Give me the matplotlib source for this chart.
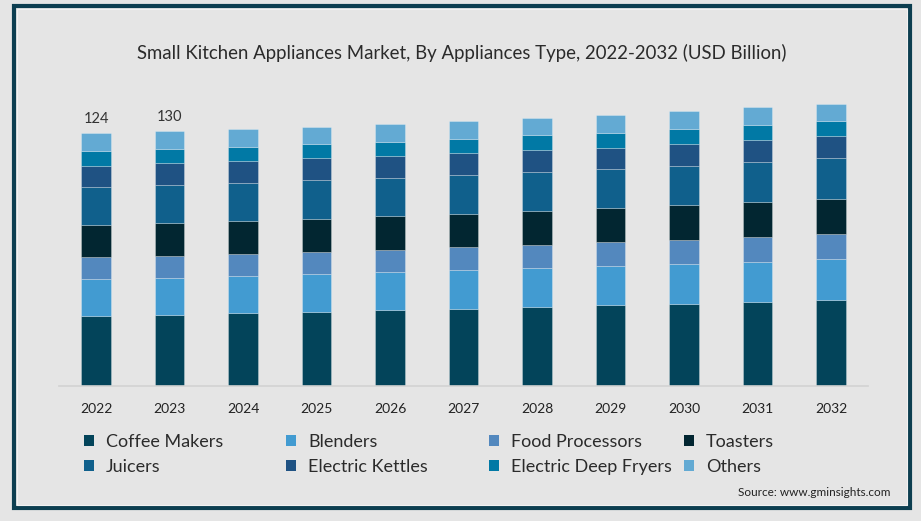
import numpy as np
import matplotlib.pyplot as plt
from matplotlib.patches import Rectangle

plt.rcParams['font.family'] = ['Lato', 'DejaVu Sans']

years = ['2022', '2023', '2024', '2025', '2026', '2027', '2028', '2029', '2030', '2031', '2032']

# USD Billion
coffee_makers = [34.2, 35.0, 35.7, 36.5, 37.1, 37.8, 38.6, 39.6, 40.4, 41.2, 42.2]
blenders = [18.3, 18.2, 18.5, 18.6, 18.9, 19.0, 19.1, 19.4, 19.6, 19.8, 20.1]
food_processors = [10.8, 10.8, 10.6, 10.8, 10.8, 11.3, 11.3, 11.5, 11.8, 12.3, 12.3]
toasters = [15.6, 16.0, 16.3, 16.2, 16.4, 16.5, 16.8, 16.8, 16.9, 17.0, 17.3]
juicers = [18.6, 18.6, 18.4, 18.8, 18.9, 18.8, 19.3, 19.1, 19.4, 19.5, 19.8]
electric_kettles = [10.6, 10.6, 10.9, 10.9, 10.6, 10.8, 10.8, 10.6, 10.8, 11.1, 11.1]
deep_fryers = [7.1, 7.0, 6.9, 7.0, 7.0, 7.0, 7.1, 7.2, 7.2, 7.1, 7.1]
others = [8.8, 8.8, 8.8, 8.5, 8.7, 8.8, 8.5, 8.8, 8.7, 8.8, 8.6]

total_labels = ['124', '130']  # only the first two bars are labelled

series = [
    ('Coffee Makers', coffee_makers, '#03445a'),
    ('Blenders', blenders, '#429bd1'),
    ('Food Processors', food_processors, '#5388be'),
    ('Toasters', toasters, '#022631'),
    ('Juicers', juicers, '#10608c'),
    ('Electric Kettles', electric_kettles, '#1f5283'),
    ('Electric Deep Fryers', deep_fryers, '#0179a5'),
    ('Others', others, '#63aad3'),
]

bg = '#e5e5e5'
fig = plt.figure(figsize=(9.21, 5.21), dpi=100, facecolor=bg)
ax = fig.add_axes([0.0644, 0.2591, 0.8777, 0.5593])
ax.set_facecolor(bg)

x = np.arange(len(years))
bottom = np.zeros(len(years))
bars = {}
for name, vals, col in series:
    bars[name] = ax.bar(x, vals, 0.4, bottom=bottom, color=col,
                        edgecolor=(1, 1, 1, 0.3), linewidth=0.6, label=name)
    bottom += np.array(vals)

for i, lab in enumerate(total_labels):
    ax.annotate(lab, (x[i], bottom[i]), xytext=(0, 5), textcoords='offset points',
                ha='center', va='bottom', fontsize=10.5, color='#333333')

ax.set_xlim(-0.5, 10.5)
ax.set_ylim(0, 143)
ax.set_xticks(x)
ax.set_xticklabels(years, fontsize=10, color='#222222')
ax.tick_params(axis='x', length=0, pad=12)
ax.set_yticks([])
for s in ['top', 'right', 'left']:
    ax.spines[s].set_visible(False)
ax.spines['bottom'].set_color('#d2d2d2')
ax.spines['bottom'].set_linewidth(1.2)

fig.text(0.5015, 0.898, 'Small Kitchen Appliances Market, By Appliances Type, 2022-2032 (USD Billion)',
         ha='center', va='center', fontsize=13.4, color='#2b2b2b')

# legend in four columns, two rows each
col_x = [84, 286, 489, 684]
order = [['Coffee Makers', 'Juicers'], ['Blenders', 'Electric Kettles'],
         ['Food Processors', 'Electric Deep Fryers'], ['Toasters', 'Others']]
for cx, names in zip(col_x, order):
    leg = fig.legend([bars[n] for n in names], names, loc='upper left',
                     bbox_to_anchor=(cx / 921, (521 - 434) / 521),
                     frameon=False, fontsize=13, handlelength=0.58, handleheight=0.58,
                     handletextpad=0.65, labelspacing=0.5, borderpad=0, borderaxespad=0,
                     labelcolor='#2b2b2b')
    for h in leg.legend_handles:
        h.set_edgecolor('none')

fig.text(890 / 921, (521 - 493) / 521, 'Source: www.gminsights.com', ha='right', va='center',
         fontsize=8.5, color='#222222')

# frame around the card
fig.patches.append(Rectangle((14 / 921, 13 / 521), 895.7 / 921, 502 / 521, transform=fig.transFigure,
                             fill=False, edgecolor='#0c3e50', linewidth=3, zorder=5))
fig.patches.append(Rectangle((17 / 921, 16 / 521), 889.7 / 921, 496 / 521, transform=fig.transFigure,
                             fill=False, edgecolor='#f2f2f2', linewidth=0.8, zorder=5))

plt.savefig('out.png', dpi=100, facecolor=bg)
